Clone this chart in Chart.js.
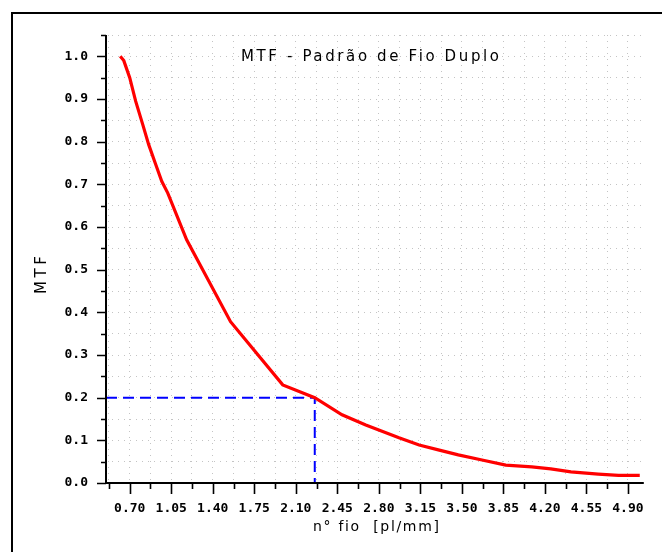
<!DOCTYPE html>
<html><head><meta charset="utf-8">
<script src="https://cdn.jsdelivr.net/npm/chart.js@4/dist/chart.umd.min.js"></script>
<style>html,body{margin:0;padding:0;background:#fff;overflow:hidden}canvas{display:block}</style>
</head><body>
<canvas id="c" width="662" height="552"></canvas>
<script>
const chartTitle = 'MTF - Padrão de Fio Duplo';
const xTitle = 'n° fio  [pl/mm]';
const yTitle = 'MTF';

// MTF curve
const fio = [0.62, 0.65, 0.70, 0.75, 0.81, 0.86, 0.92, 0.97, 1.02, 1.18, 1.55, 1.99, 2.26, 2.49, 2.69, 2.97, 3.14, 3.31, 3.47, 3.67, 3.87, 4.09, 4.25, 4.42, 4.65, 4.82, 5.00];
const mtf = [1.00, 0.99, 0.95, 0.895, 0.84, 0.793, 0.746, 0.707, 0.68, 0.57, 0.378, 0.23, 0.20, 0.16, 0.136, 0.106, 0.089, 0.077, 0.066, 0.054, 0.042, 0.038, 0.033, 0.026, 0.021, 0.018, 0.018];

// reference (MTF = 0.2) guide line
const refX = [0.5, 2.26, 2.26];
const refY = [0.2, 0.2, 0.0];

const xTickLabels = ['0.70','1.05','1.40','1.75','2.10','2.45','2.80','3.15','3.50','3.85','4.20','4.55','4.90'];
const yTickLabels = ['0.0','0.1','0.2','0.3','0.4','0.5','0.6','0.7','0.8','0.9','1.0'];
const xRange = [0.5, 5.034];
const yRange = [0, 1.05];

function buildTicks(labels, lo, hi) {
  const majors = labels.map(parseFloat);
  const step = (majors[1] - majors[0]) / 2;
  const set = new Map();
  majors.forEach(v => {
    [v - step, v, v + step].forEach(t => {
      if (t >= lo - 1e-9 && t <= hi + 1e-9) set.set(t.toFixed(4), t);
    });
  });
  return [...set.values()].sort((a, b) => a - b).map(t => ({ value: t, major: majors.some(m => Math.abs(m - t) < 1e-6) }));
}
const xTicks = buildTicks(xTickLabels, xRange[0], xRange[1]);
const yTicks = buildTicks(yTickLabels, yRange[0], yRange[1]);
function labelFor(labels, v) {
  const l = labels.find(s => Math.abs(parseFloat(s) - v) < 1e-6);
  return l === undefined ? '' : l;
}

function spacedText(ctx, text, cx, cy, width) {
  ctx.save();
  ctx.letterSpacing = '0px';
  const w0 = ctx.measureText(text).width;
  const ls = Math.max(0, (width - w0) / (text.length - 1));
  ctx.letterSpacing = ls.toFixed(2) + 'px';
  const w = ctx.measureText(text).width;
  ctx.textAlign = 'left';
  ctx.textBaseline = 'middle';
  ctx.fillText(text, cx - (w - ls) / 2, cy);
  ctx.restore();
}

const decor = {
  id: 'decor',
  beforeDraw(chart) {
    const ctx = chart.ctx;
    ctx.save();
    ctx.fillStyle = '#ffffff';
    ctx.fillRect(0, 0, chart.width, chart.height);
    ctx.fillStyle = '#000';
    ctx.fillRect(11, 12, 2, chart.height - 12);
    ctx.fillRect(11, 12, chart.width - 11, 2);
    ctx.restore();
  },
  afterDraw(chart) {
    const ctx = chart.ctx;
    const xs = chart.scales.x, ys = chart.scales.y;
    const x0 = xs.getPixelForValue(xRange[0]);
    const x1 = xs.getPixelForValue(xRange[1]);
    const y0 = ys.getPixelForValue(yRange[0]);
    const y1 = ys.getPixelForValue(yRange[1]);
    ctx.save();
    ctx.strokeStyle = '#000';
    ctx.lineWidth = 2;
    ctx.beginPath();
    ctx.moveTo(x0, y1); ctx.lineTo(x0, y0 + 1);
    ctx.moveTo(x0 - 1, y0); ctx.lineTo(x1, y0);
    ctx.stroke();
    ctx.lineWidth = 1.6;
    ctx.beginPath();
    yTicks.forEach(t => {
      const p = Math.round(ys.getPixelForValue(t.value)) + 0.5;
      ctx.moveTo(x0, p); ctx.lineTo(x0 - (t.major ? 9 : 5), p);
    });
    xTicks.forEach(t => {
      const p = Math.round(xs.getPixelForValue(t.value)) + 0.5;
      ctx.moveTo(p, y0); ctx.lineTo(p, y0 + (t.major ? 11 : 6));
    });
    ctx.stroke();
    ctx.fillStyle = '#000';
    ctx.font = '15px "DejaVu Sans"';
    spacedText(ctx, chartTitle, 370, 57, 258);
    ctx.font = '14px "DejaVu Sans"';
    spacedText(ctx, xTitle, 376, 527, 126);
    ctx.save();
    ctx.translate(42, 275);
    ctx.rotate(-Math.PI / 2);
    ctx.font = '15px "DejaVu Sans"';
    spacedText(ctx, yTitle, 0, 0, 38);
    ctx.restore();
    ctx.restore();
  }
};

const tickFont = { family: '"DejaVu Sans Mono"', size: 13, weight: 'bold' };

new Chart(document.getElementById('c'), {
  type: 'line',
  data: {
    datasets: [
      {
        label: 'MTF',
        data: fio.map((x, i) => ({ x, y: mtf[i] })),
        borderColor: '#ff0000',
        borderWidth: 3.2,
        pointRadius: 0,
        tension: 0,
        fill: false
      },
      {
        label: 'ref',
        data: refX.map((x, i) => ({ x, y: refY[i] })),
        borderColor: '#0000ff',
        borderWidth: 2,
        borderDash: [11, 6],
        pointRadius: 0,
        tension: 0,
        fill: false
      }
    ]
  },
  options: {
    responsive: false,
    animation: false,
    devicePixelRatio: 1,
    layout: { padding: { left: 0, right: 15, top: 35, bottom: 0 } },
    plugins: { legend: { display: false }, title: { display: false }, tooltip: { enabled: false } },
    scales: {
      x: {
        type: 'linear',
        min: xRange[0], max: xRange[1],
        afterBuildTicks: s => { s.ticks = xTicks.map(t => ({ value: t.value })); },
        afterFit: s => { s.height = 69; },
        ticks: {
          autoSkip: false, maxRotation: 0, minRotation: 0,
          padding: 18, color: '#000', font: tickFont,
          callback: v => labelFor(xTickLabels, v)
        },
        grid: { color: '#c4c4c4', lineWidth: 1, drawTicks: false },
        border: { display: false, dash: [1, 5] }
      },
      y: {
        type: 'linear',
        min: yRange[0], max: yRange[1],
        afterBuildTicks: s => { s.ticks = yTicks.map(t => ({ value: t.value })); },
        afterFit: s => { s.width = 106; },
        ticks: {
          autoSkip: false,
          padding: 18, color: '#000', font: tickFont,
          callback: v => labelFor(yTickLabels, v)
        },
        grid: { color: '#c4c4c4', lineWidth: 1, drawTicks: false },
        border: { display: false, dash: [1, 5] }
      }
    }
  },
  plugins: [decor]
});
</script>
</body></html>
